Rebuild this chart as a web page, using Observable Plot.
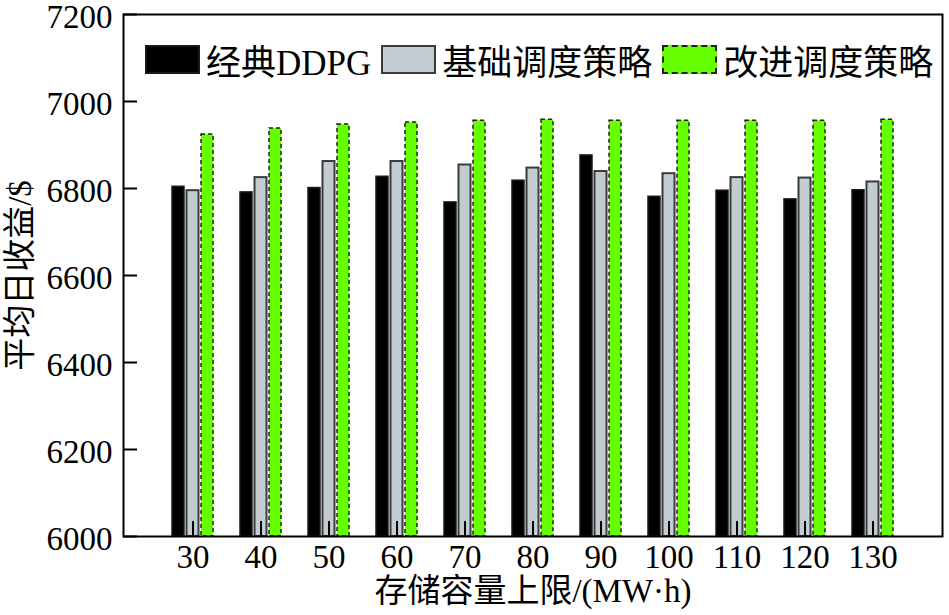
<!DOCTYPE html>
<html>
<head>
<meta charset="utf-8">
<script src="https://cdn.jsdelivr.net/npm/d3@7"></script>
<script src="https://cdn.jsdelivr.net/npm/@observablehq/plot@0.6"></script>
<style>
  html, body { margin: 0; padding: 0; background: #fff; }
  #wrap { position: relative; width: 949px; height: 615px; }
  #legend { position: absolute; left: 145px; top: 34px; display: flex; flex-wrap: nowrap; align-items: center;
    white-space: nowrap; width: 800px;
    font-family: 'Liberation Serif', 'Noto Sans CJK SC', serif; font-size: 35px; color: #000; }
  .item { display: flex; align-items: center; margin-right: 10px; flex-shrink: 0; }
  .item span { white-space: nowrap; }
  .sw { width: 55px; height: 29px; box-sizing: border-box; margin-right: 6px; flex-shrink: 0; }
</style>
</head>
<body>
<div id="wrap"><div id="legend"></div></div>
<script>
const capacities = [30, 40, 50, 60, 70, 80, 90, 100, 110, 120, 130];
const ddpg     = [6804, 6791, 6801, 6827, 6768, 6818, 6876, 6781, 6795, 6775, 6796];
const basic    = [6795, 6825, 6862, 6862, 6854, 6847, 6839, 6834, 6825, 6824, 6815];
const improved = [6924, 6938, 6947, 6952, 6956, 6958, 6956, 6956, 6956, 6956, 6958];
const seriesNames = ["经典DDPG", "基础调度策略", "改进调度策略"];
const yDomain = [6000, 7200];
const yTicks = [6000, 6200, 6400, 6600, 6800, 7000, 7200];
const xTitle = "存储容量上限/(MW·h)";
const yTitle = "平均日收益/$";

const rows = capacities.map((c, i) => ({cap: String(c), ddpg: ddpg[i], basic: basic[i], improved: improved[i]}));
const base = yDomain[0];

const styles = [
  {fill: "#000000", stroke: "#1a1a1a", strokeWidth: 1.5},
  {fill: "#c3cdd1", stroke: "#3a3a3a", strokeWidth: 2},
  {fill: "#66ff00", stroke: "#222222", strokeWidth: 1.5, strokeDasharray: "4,3"}
];

const font = "'Liberation Serif','Noto Sans CJK SC',serif";
const W = 949, ML = 123, MR = 7, TICK = 14;

const chart = Plot.plot({
  width: W,
  height: 615,
  marginLeft: ML,
  marginRight: MR,
  marginTop: 14,
  marginBottom: 79,
  style: {fontFamily: font, fontSize: "33px", color: "#000", background: "#fff", overflow: "visible"},
  x: {type: "band", domain: capacities.map(String), paddingInner: 0.4, paddingOuter: 0.7},
  y: {domain: yDomain},
  marks: [
    Plot.barY(rows, {x: "cap", y1: base, y2: "ddpg", ...styles[0], insetLeft: 0, insetRight: 29}),
    Plot.barY(rows, {x: "cap", y1: base, y2: "basic", ...styles[1], insetLeft: 14.5, insetRight: 14.5}),
    Plot.barY(rows, {x: "cap", y1: base, y2: "improved", ...styles[2], insetLeft: 29, insetRight: 0}),
    Plot.tickY(yTicks, {y: d => d, stroke: "#000", strokeWidth: 2, insetRight: W - ML - MR - TICK}),
    Plot.axisY({ticks: yTicks, tickSize: 0, tickPadding: 11, dy: 3, tickFormat: d3.format("d"), label: yTitle, labelAnchor: "center", labelArrow: "none", labelOffset: 116, fontSize: 33}),
    Plot.axisX({tickSize: -15, text: null, label: null, strokeWidth: 2}),
    Plot.axisX({tickSize: 0, tickPadding: 8, label: xTitle, labelAnchor: "center", labelArrow: "none", labelOffset: 65, fontSize: 33}),
    Plot.frame({stroke: "#000", strokeWidth: 2})
  ]
});
document.getElementById("wrap").prepend(chart);
chart.style.position = "absolute";
chart.style.left = "0";
chart.style.top = "0";

const legend = document.getElementById("legend");
seriesNames.forEach((name, i) => {
  const item = document.createElement("div");
  item.className = "item";
  const sw = document.createElement("div");
  sw.className = "sw";
  sw.style.background = styles[i].fill;
  sw.style.border = i === 2 ? "2px dashed #222" : `2px solid ${styles[i].stroke}`;
  const t = document.createElement("span");
  t.textContent = name;
  item.appendChild(sw);
  item.appendChild(t);
  legend.appendChild(item);
});
</script>
</body>
</html>
